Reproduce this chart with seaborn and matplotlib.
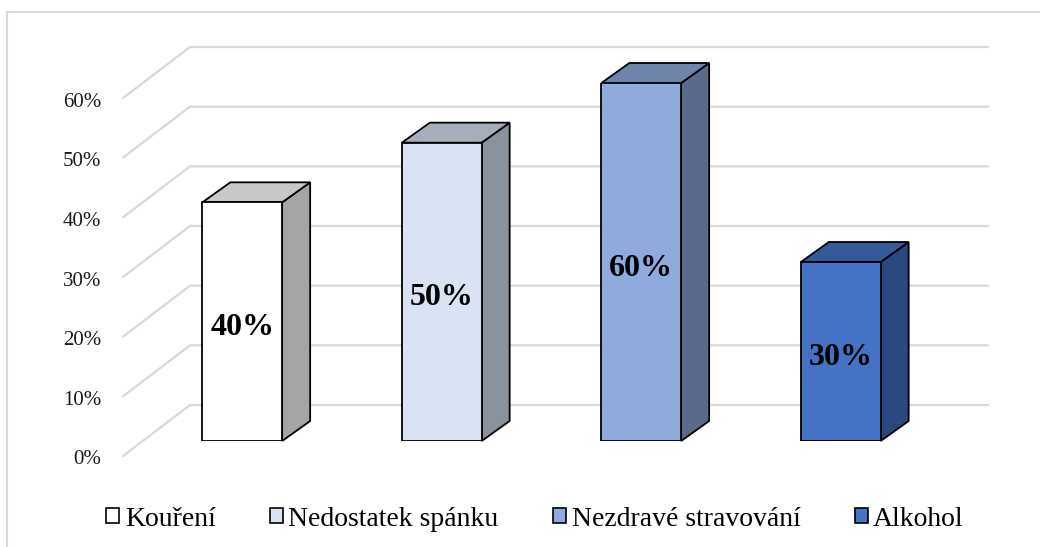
import matplotlib
matplotlib.use('Agg')
import matplotlib.pyplot as plt
import matplotlib.transforms as mtransforms
from matplotlib.patches import Polygon, Rectangle, Patch
import pandas as pd
import seaborn as sns

categories = ['Kouření', 'Nedostatek spánku', 'Nezdravé stravování', 'Alkohol']
values = [0.40, 0.50, 0.60, 0.30]
front_colors = ['#FFFFFF', '#DAE3F3', '#8FAADC', '#4472C4']
side_colors = ['#A5A5A5', '#8A929D', '#5A6A8B', '#2B4880']
top_colors = ['#C8C8C8', '#A6AEB9', '#6E84AC', '#355A9A']
yticks = [0.0, 0.1, 0.2, 0.3, 0.4, 0.5, 0.6]
ytick_labels = ['0%', '10%', '20%', '30%', '40%', '50%', '60%']

df = pd.DataFrame({'cat': categories, 'val': values})

sns.set_style('white')
plt.rcParams['font.family'] = ['Liberation Serif', 'DejaVu Serif']
plt.rcParams['text.color'] = 'black'

fig = plt.figure(figsize=(10.4, 5.47), dpi=100)
ax = fig.add_axes([142.5 / 1040, (547 - 441) / 547, 798 / 1040, 358 / 547])

sns.barplot(data=df, x='cat', y='val', hue='cat', palette=front_colors, saturation=1,
            width=0.4, legend=False, ax=ax, edgecolor='black', linewidth=1.3, zorder=3)
ax.set_xlim(-0.5, 3.5)
ax.set_ylim(0, 0.6)
ax.axis('off')

# depth offsets in pixels (display y goes up)
back = mtransforms.offset_copy(ax.transData, fig, x=47.5, y=36, units='dots')
front = mtransforms.offset_copy(ax.transData, fig, x=-19.5, y=-15, units='dots')
label_tr = mtransforms.offset_copy(ax.transData, fig, x=0, y=-6, units='dots')
grid_col = '#D9D9D9'

# gridlines: left side wall + back wall
for v, lab in zip(yticks, ytick_labels):
    fx, fy = front.transform((-0.5, v))
    bx, by = back.transform((-0.5, v))
    rx, ry = back.transform((3.5, v))
    ax.plot([fx, bx, rx], [fy, by, ry], color=grid_col, lw=1.6,
            transform=None, clip_on=False, zorder=1)
    ax.text(fx - 22, fy - 4, lab, transform=None, ha='right', va='center',
            fontsize=15, color='#1a1a1a')

# 3D faces for each bar, built from the seaborn patches
dx, dy = 28, 20
for i, p in enumerate(ax.patches[:len(values)]):
    x0, y0 = ax.transData.transform((p.get_x(), p.get_y()))
    x1, y1 = ax.transData.transform((p.get_x() + p.get_width(), p.get_y() + p.get_height()))
    side = [(x1, y0), (x1 + dx, y0 + dy), (x1 + dx, y1 + dy), (x1, y1)]
    top = [(x0, y1), (x1, y1), (x1 + dx, y1 + dy), (x0 + dx, y1 + dy)]
    for pts, c in [(side, side_colors[i]), (top, top_colors[i])]:
        ax.add_patch(Polygon(pts, closed=True, facecolor=c, edgecolor='black',
                             lw=1.3, transform=None, clip_on=False, zorder=2.5))
    ax.text(p.get_x() + p.get_width() / 2, p.get_height() / 2,
            f'{values[i] * 100:.0f}%', ha='center', va='center', transform=label_tr,
            fontsize=23, fontweight='bold', color='black', zorder=5)

# chart border
fig.patches.append(Rectangle((7 / 1040, -0.1), 1.2, (547 - 12) / 547 + 0.1,
                             transform=fig.transFigure, fill=False,
                             edgecolor='#D9D9D9', lw=1.5))

handles = [Patch(facecolor=c, edgecolor='black', lw=1.2) for c in front_colors]
fig.legend(handles, categories, loc='center', bbox_to_anchor=(535 / 1040, 1 - 519 / 547),
           ncol=4, frameon=False, fontsize=20, handlelength=0.47, handleheight=0.47,
           handletextpad=0.2, columnspacing=1.95)

fig.savefig('out.png', dpi=100)
